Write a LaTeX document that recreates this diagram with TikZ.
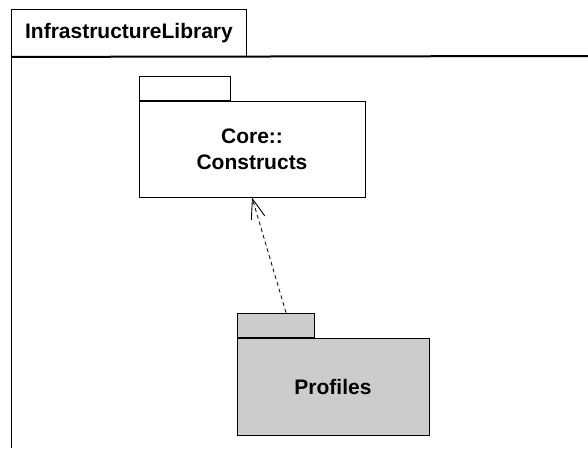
\documentclass[tikz,border=0pt]{standalone}
\usepackage{fontspec}
\setmainfont{Liberation Sans}
\usepackage{tikz}
\usetikzlibrary{positioning,arrows.meta}
\definecolor{PkgGray}{HTML}{CCCCCC}
\tikzset{
  pkg/.style={draw,line width=0.9pt,align=center,inner sep=0pt,
    font=\fontsize{21}{26}\selectfont\bfseries},
  pkgtab/.style={draw,line width=0.9pt,inner sep=0pt,anchor=south west},
  grey/.style={fill=PkgGray},
  dep/.style={dash pattern=on 4pt off 3pt,line width=0.8pt,
    -{Straight Barb[length=20pt,width=14pt,line width=0.9pt]}},
}
\begin{document}
\begin{tikzpicture}[x=1pt,y=-1pt]
\useasboundingbox (0,0) rectangle (588,448);
% outer package
\node[pkg, anchor=north west, minimum width=235pt, minimum height=47pt] (lib) at (11,9) {InfrastructureLibrary};
\coordinate (libend) at (588,56);
\coordinate (libfoot) at (11,448);
\draw[line width=2pt] (lib.south west) -- (libend);
\draw[line width=1pt] (lib.south west) -- (libfoot);
% imported package
\node[pkg, minimum width=226pt, minimum height=96pt] (core) at (252,149) {Core::\\Constructs};
\node[pkgtab, minimum width=91pt, minimum height=24pt] (coretab) at (core.north west) {};
% profiles package
\node[pkg, grey, minimum width=192pt, minimum height=97pt] (prof) at (333,386.5) {Profiles};
\node[pkgtab, grey, minimum width=77pt, minimum height=24pt] (proftab) at (prof.north west) {};
\draw[dep] ([xshift=10.5pt]proftab.north) -- (core.south);
\end{tikzpicture}
\end{document}
